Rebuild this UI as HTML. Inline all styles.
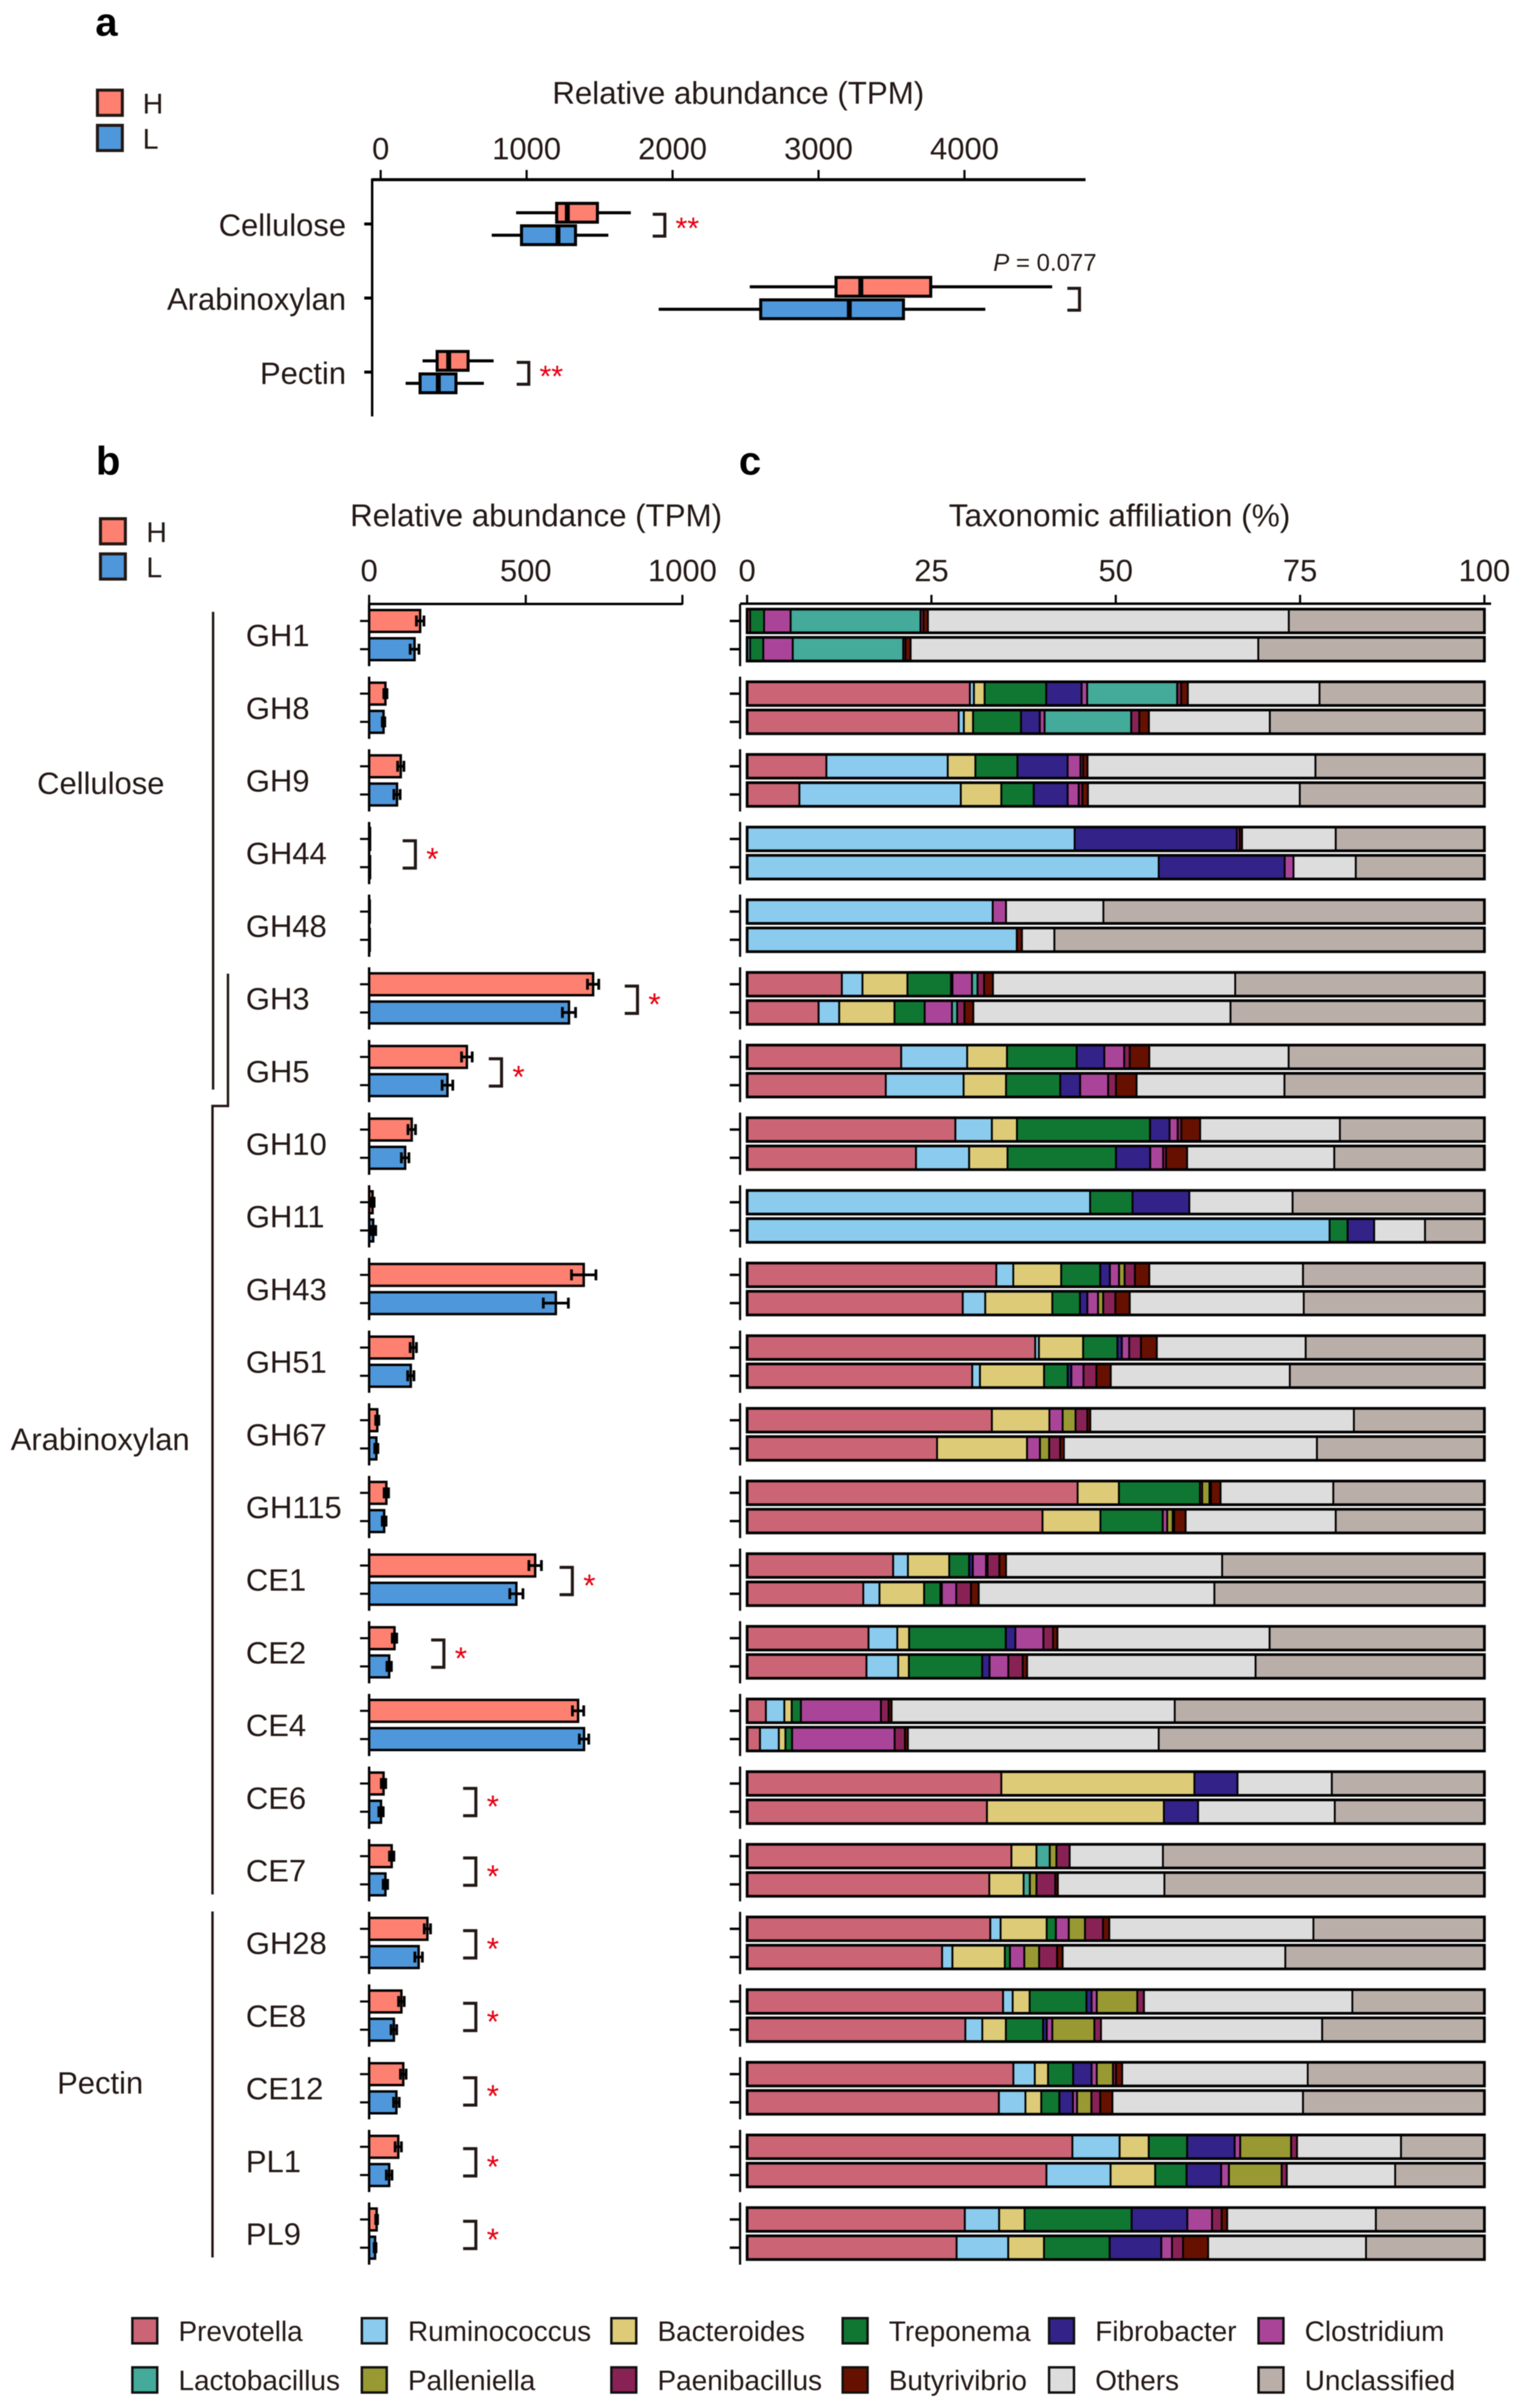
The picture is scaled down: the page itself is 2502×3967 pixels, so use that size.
<!DOCTYPE html>
<html lang="en">
<head>
<meta charset="utf-8">
<title>Relative abundance and taxonomic affiliation of carbohydrate-active enzymes</title>
<style>
  html, body { margin: 0; padding: 0; background: #fff; }
  svg { display: block; filter: blur(0.7px); }
  text { font-family: "Liberation Sans", Arial, sans-serif; fill: #231815; }
</style>
</head>
<body>
<svg id="figure" xmlns="http://www.w3.org/2000/svg" width="2502" height="3967" viewBox="0 0 2502 3967">
  <rect x="0" y="0" width="2502" height="3967" fill="#fff"/>

  <text x="157" y="59" font-size="66" font-weight="bold" style="fill:#000">a</text>
  <text x="158" y="782" font-size="66" font-weight="bold" style="fill:#000">b</text>
  <text x="1217" y="782" font-size="66" font-weight="bold" style="fill:#000">c</text>

  <text x="1216" y="171" font-size="51.5" text-anchor="middle">Relative abundance (TPM)</text>
  <text x="883" y="867" font-size="51.5" text-anchor="middle">Relative abundance (TPM)</text>
  <text x="1844" y="867" font-size="52" text-anchor="middle">Taxonomic affiliation (%)</text>

  <text x="1636" y="446" font-size="39.5"><tspan font-style="italic">P</tspan> = 0.077</text>

  <text x="166" y="1308" font-size="51" text-anchor="middle">Cellulose</text>
  <text x="165" y="2389" font-size="51" text-anchor="middle">Arabinoxylan</text>
  <text x="165" y="3449" font-size="51" text-anchor="middle">Pectin</text>

  <g fill="none" stroke="#231815" stroke-width="4">
    <path d="M351 1008V1795"/>
    <path d="M375.500 1604V1822H350V3121"/>
    <path d="M350 3149V3719"/>
  </g>

  <g id="panel-a"></g>
  <g id="panel-b"></g>
  <g id="panel-c"></g>
  <g id="legends"></g>
</svg>

<script>
// ---------- Panel a data ----------
const polysaccharides = ['Cellulose', 'Arabinoxylan', 'Pectin'];
const boxTicks = [0, 1000, 2000, 3000, 4000];
const boxWhiskerLowH = [928, 2529, 287];
const boxQ1H = [1206, 3120, 387];
const boxMedianH = [1279, 3290, 466];
const boxQ3H = [1485, 3769, 599];
const boxWhiskerHighH = [1714, 4601, 774];
const boxWhiskerLowL = [761, 1905, 171];
const boxQ1L = [965, 2604, 270];
const boxMedianL = [1215, 3211, 395];
const boxQ3L = [1335, 3582, 516];
const boxWhiskerHighL = [1560, 4143, 707];
const boxSignificance = ['**', '', '**'];
const boxBracketValue = [1864, 4705, 932];

// ---------- Panel b data ----------
const enzymes = ['GH1','GH8','GH9','GH44','GH48','GH3','GH5','GH10','GH11','GH43','GH51','GH67','GH115','CE1','CE2','CE4','CE6','CE7','GH28','CE8','CE12','PL1','PL9'];
const barTicks = [0, 500, 1000];
const abundanceH = [163,52,101,3,2,715,312,136,11,685,141,26,55,530,81,667,46,72,186,103,109,93,24];
const abundanceL = [145,46,89,3,2,638,250,115,13,596,133,23,48,470,64,686,38,52,158,79,87,64,19];
const errorH = [12,5,10,0,0,18,17,12,5,39,10,5,7,20,7,18,7,7,10,9,9,10,3];
const errorL = [14,4,10,0,0,21,17,12,8,40,10,5,6,21,7,15,7,7,12,9,9,9,3];
const enzymeSignificance = ['','','','*','','*','*','','','','','','','*','*','','*','*','*','*','*','*','*'];
const bracketValue = [null,null,null,107,null,816,382,null,null,null,null,null,null,608,198,null,300,300,300,300,300,300,300];

// ---------- Panel c data (percent, one value per enzyme) ----------
const percentTicks = [0, 25, 50, 75, 100];
const taxonNames = ['Prevotella','Ruminococcus','Bacteroides','Treponema','Fibrobacter','Clostridium','Lactobacillus','Palleniella','Paenibacillus','Butyrivibrio','Others','Unclassified'];
const taxonColors = ['#cb6475','#8acbee','#ddcb77','#107733','#332288','#aa4499','#44aa99','#999933','#882255','#661100','#dddddd','#baaea9'];
const prevotellaH = [0.4,30.2,10.75,0,0,12.85,20.9,28.25,0,33.8,39.1,33.2,44.85,19.8,16.45,2.55,34.5,35.85,33,34.7,36.1,44.1,29.5];
const prevotellaL = [0,28.7,7.1,0,0,9.7,18.8,22.9,0,29.25,30.55,25.75,40.05,15.75,16.2,1.75,32.55,32.85,26.45,29.6,34.15,40.6,28.4];
const ruminococcusH = [0,0.55,16.45,44.4,33.3,2.8,8.95,4.95,46.5,2.3,0.5,0,0,2,3.9,2.5,0,0,1.4,1.3,2.9,6.4,4.65];
const ruminococcusL = [0.4,0.7,21.9,55.85,36.6,2.8,10.55,7.2,79,3.05,1.05,0,0,2.2,4.3,2.55,0,0,1.4,2.3,3.6,8.7,7];
const bacteroidesH = [0,1.45,3.75,0,0,6.1,5.4,3.4,0,6.5,6,7.8,5.6,5.6,1.6,1,26.2,3.4,6.25,2.3,1.8,3.95,3.45];
const bacteroidesL = [0,1.25,5.5,0,0,7.5,5.75,5.2,0,9.1,8.7,12.2,7.85,6.05,1.45,0.9,24,4.65,7.1,3.2,2.15,6.05,4.85];
const treponemaH = [1.9,8.35,5.7,0,0,5.9,9.45,18.05,5.75,5.3,4.65,0,11,2.7,13.1,1.25,0,0,1.25,7.7,3.4,5.2,14.5];
const treponemaL = [1.8,6.5,4.4,0,0,4.1,7.35,14.7,2.45,3.75,3.2,0,8.45,2.2,9.95,0.9,0,0,0.7,5.05,2.45,4.25,8.9];
const fibrobacterH = [0,4.8,6.8,22,0,0.2,3.75,2.65,7.7,1.3,0.6,0,0,0.5,1.3,0,5.85,0,0,0.7,2.5,6.45,7.55];
const fibrobacterL = [0,2.55,4.6,17.1,0,0,2.7,4.65,3.6,1,0.5,0,0,0.2,1,0,4.65,0,0,0.5,1.85,4.7,7];
const clostridiumH = [3.6,0.75,1.75,0.35,1.8,2.65,2.7,1.1,0,1.25,1,1.8,0.3,1.8,3.8,10.85,0,0,1.75,0.7,0.7,0.75,3.35];
const clostridiumL = [4,0.65,1.5,1.2,0,3.7,3.8,1.75,0,1.45,1.65,1.75,0.6,1.95,2.55,13.9,0,0,1.95,0.75,0.55,1.05,1.45];
const lactobacillusH = [17.6,12.2,0,0,0,0.75,0,0,0,0,0,0,0,0.2,0,0,0,1.8,0,0,0,0,0];
const lactobacillusL = [15,11.75,0,0,0,0.7,0,0,0,0,0,0,0,0,0,0,0,0.85,0,0,0,0,0];
const palleniellaH = [0,0,0,0,0,0,0,0,0,0.75,0,1.75,1,0,0,0,0,0.9,2.2,5.5,2.2,6.9,0];
const palleniellaL = [0,0,0,0,0,0,0,0,0,0.7,0,1.25,0.75,0,0,0,0,0.9,2,5.7,1.95,7.15,0];
const paenibacillusH = [0.4,0.55,0.35,0,0,0.9,0.75,0.5,0,1.4,1.6,1.6,0.2,1.6,1.3,1.05,0,1.8,2.45,0.9,0.4,0.8,1.3];
const paenibacillusL = [0.3,1.1,0.5,0,0,1,1.05,0.4,0,1.65,1.75,1.5,0.2,2,1.95,1.4,0,2.55,2.45,0.9,1.2,0.7,1.5];
const butyrivibrioH = [0.6,0.9,0.6,0.35,0,1.2,2.65,2.55,0,1.95,2.15,0.4,1.3,0.9,0.6,0.4,0,0,0.85,0,0.85,0,0.75];
const butyrivibrioL = [0.7,1.3,0.75,0,0.7,1.2,2.8,2.85,0,1.95,1.95,0.5,1.55,1.05,0.6,0.4,0,0.35,0.75,0,1.65,0,3.4];
const othersH = [48.9,17.85,30.9,12.7,13.2,32.85,18.9,18.95,14,20.85,20.2,35.75,15.3,29.3,28.75,38.4,12.8,12.65,27.7,28.25,25.15,14.1,20.15];
const othersL = [47.2,16.4,28.75,8.45,4.4,34.9,20.05,19.95,6.9,23.6,24.3,34.3,20.35,31.95,31,34,18.55,14.45,30.2,30,25.85,14.7,21.4];
const unclassifiedH = [26.5,22.35,22.9,20.15,51.65,33.8,26.55,19.6,26,24.6,24.25,17.7,20.5,35.55,29.1,42,20.7,43.6,23.2,17.9,23.95,11.3,14.7];
const unclassifiedL = [30.7,29.1,25.05,17.45,58.35,34.45,27.1,20.35,8.05,24.5,26.4,22.7,20.15,36.6,31.05,44.15,20.3,43.4,27,22,24.6,12.1,16.05];

const seriesH = [prevotellaH, ruminococcusH, bacteroidesH, treponemaH, fibrobacterH, clostridiumH, lactobacillusH, palleniellaH, paenibacillusH, butyrivibrioH, othersH, unclassifiedH];
const seriesL = [prevotellaL, ruminococcusL, bacteroidesL, treponemaL, fibrobacterL, clostridiumL, lactobacillusL, palleniellaL, paenibacillusL, butyrivibrioL, othersL, unclassifiedL];

// ---------- Axis functions ----------
const INK = '#231815';
const COLOR_H = '#fd8070';
const COLOR_L = '#4e97da';
const RED = '#e60012';
const xA = v => 627 + v * 0.2404;
const xB = v => 608 + v * 0.516;
const xC = v => 1230.6 + v * 12.144;
const rowH = i => 1023 + 119.7 * i;
const rowL = i => rowH(i) + 46.5;

const NS = 'http://www.w3.org/2000/svg';
function make(parent, tag, props, content) {
  const node = document.createElementNS(NS, tag);
  Object.keys(props).forEach(k => node.setAttribute(k, props[k]));
  if (content !== undefined) node.textContent = content;
  parent.appendChild(node);
  return node;
}
const capsBaseline = (cy, size) => cy + 0.36 * size;

// ---------- Panel a ----------
const gA = document.getElementById('panel-a');
let axA = make(gA, 'path', {d: 'M613 296H1788', fill: 'none', stroke: '#000', 'stroke-width': 5});


axA = make(gA, 'path', {d: 'M613 294V686', fill: 'none', stroke: '#000', 'stroke-width': 4});



boxTicks.forEach(t => {
  const tick = make(gA, 'line', {x1: xA(t), x2: xA(t), y1: 280, y2: 296, stroke: '#000', 'stroke-width': 3.5});
  
  
  const label = make(gA, 'text', {x: xA(t), y: capsBaseline(244, 51), 'font-size': 51, 'text-anchor': 'middle'}, String(t));
  
  
});

function drawBox(low, q1, med, q3, high, cy, fill, nameBase) {
  const whisker = make(gA, 'line', {x1: xA(low), x2: xA(high), y1: cy, y2: cy, stroke: '#000', 'stroke-width': 5});
  
  
  const box = make(gA, 'rect', {x: xA(q1), y: cy - 15.5, width: xA(q3) - xA(q1), height: 31, fill: fill, stroke: '#000', 'stroke-width': 5});
  
  
  const median = make(gA, 'line', {x1: xA(med), x2: xA(med), y1: cy - 18, y2: cy + 18, stroke: '#000', 'stroke-width': 8});
  
  
}

polysaccharides.forEach((name, i) => {
  const cy = 369 + 122 * i;
  const tick = make(gA, 'line', {x1: 600, x2: 613, y1: cy, y2: cy, stroke: '#000', 'stroke-width': 5});
  
  
  const label = make(gA, 'text', {x: 570, y: capsBaseline(cy + 1, 51), 'font-size': 51, 'text-anchor': 'end'}, name);
  
  
  drawBox(boxWhiskerLowH[i], boxQ1H[i], boxMedianH[i], boxQ3H[i], boxWhiskerHighH[i], cy - 18.5, COLOR_H, name.toLowerCase() + '-h');
  drawBox(boxWhiskerLowL[i], boxQ1L[i], boxMedianL[i], boxQ3L[i], boxWhiskerHighL[i], cy + 18.5, COLOR_L, name.toLowerCase() + '-l');
  const bx = xA(boxBracketValue[i]);
  const bracket = make(gA, 'path', {d: 'M' + bx + ' ' + (cy - 16) + 'H' + (bx + 20) + 'V' + (cy + 20) + 'H' + bx, fill: 'none', stroke: INK, 'stroke-width': 5});
  
  
  if (boxSignificance[i]) {
    const star = make(gA, 'text', {x: bx + 57, y: cy + 24, 'font-size': 50, 'text-anchor': 'middle', style: 'fill:' + RED}, boxSignificance[i]);
    
    
  }
});

// ---------- Panel b ----------
const gB = document.getElementById('panel-b');
const axB = make(gB, 'path', {d: 'M' + xB(0) + ' 995H' + xB(1000), fill: 'none', stroke: '#000', 'stroke-width': 4});


barTicks.forEach(t => {
  const tick = make(gB, 'line', {x1: xB(t), x2: xB(t), y1: 980, y2: 996, stroke: '#000', 'stroke-width': 3.5});
  
  
  const label = make(gB, 'text', {x: xB(t), y: capsBaseline(939, 51), 'font-size': 51, 'text-anchor': 'middle'}, String(t));
  
  
});

function drawBar(value, err, cy, fill, nameBase) {
  const bar = make(gB, 'rect', {x: xB(0), y: cy - 18, width: xB(value) - xB(0), height: 36, fill: fill, stroke: '#000', 'stroke-width': 4});
  
  
  if (err > 0) {
    const lo = xB(value - err), hi = xB(value + err);
    const eb = make(gB, 'path', {d: 'M' + lo + ' ' + cy + 'H' + hi + 'M' + lo + ' ' + (cy - 9) + 'V' + (cy + 9) + 'M' + hi + ' ' + (cy - 9) + 'V' + (cy + 9), fill: 'none', stroke: '#000', 'stroke-width': 4.5});
    
    
  }
}

const bracketNudge = {CE6: 5, CE12: 3};

enzymes.forEach((name, i) => {
  const yH = rowH(i), yL = rowL(i), slug = name.toLowerCase();
  const label = make(gB, 'text', {x: 405, y: capsBaseline((yH + yL) / 2, 51), 'font-size': 51}, name);
  
  
  drawBar(abundanceH[i], errorH[i], yH, COLOR_H, slug + '-h');
  drawBar(abundanceL[i], errorL[i], yL, COLOR_L, slug + '-l');
  const axis = make(gB, 'line', {x1: xB(0), x2: xB(0), y1: yH - 28, y2: yL + 28, stroke: '#000', 'stroke-width': 4});
  
  
  [yH, yL].forEach(y => {
    const tick = make(gB, 'line', {x1: 593, x2: 608, y1: y, y2: y, stroke: '#000', 'stroke-width': 3.5});
    
    
  });
  if (bracketValue[i] !== null) {
    const bx = xB(bracketValue[i]);
    const top = yH + (bracketNudge[name] || 0);
    const bracket = make(gB, 'path', {d: 'M' + bx + ' ' + (top + 3) + 'H' + (bx + 21) + 'V' + (top + 48) + 'H' + bx, fill: 'none', stroke: INK, 'stroke-width': 5});
    
    
    const star = make(gB, 'text', {x: bx + 49, y: top + 51, 'font-size': 52, 'text-anchor': 'middle', style: 'fill:' + RED}, enzymeSignificance[i]);
    
    
  }
});

// ---------- Panel c ----------
const gC = document.getElementById('panel-c');
const axC = make(gC, 'path', {d: 'M1219 994.500H2456', fill: 'none', stroke: '#000', 'stroke-width': 4});


percentTicks.forEach(t => {
  const tick = make(gC, 'line', {x1: xC(t), x2: xC(t), y1: 980, y2: 995, stroke: '#000', 'stroke-width': 3.5});
  
  
  const label = make(gC, 'text', {x: xC(t), y: capsBaseline(939, 51), 'font-size': 51, 'text-anchor': 'middle'}, String(t));
  
  
});

function drawStack(series, i, cy, nameBase) {
  const total = series.reduce((s, arr) => s + arr[i], 0);
  let cum = 0;
  series.forEach((arr, k) => {
    const v = arr[i] / total * 100;
    if (v > 0) {
      const seg = make(gC, 'rect', {x: xC(cum), y: cy - 19, width: xC(cum + v) - xC(cum), height: 38, fill: taxonColors[k], stroke: '#000', 'stroke-width': 3});
      
      
    }
    cum += v;
  });
  const frame = make(gC, 'rect', {x: xC(0), y: cy - 19.5, width: xC(100) - xC(0), height: 39, fill: 'none', stroke: '#000', 'stroke-width': 4.5});
  
  
}

enzymes.forEach((name, i) => {
  const yH = rowH(i), yL = rowL(i), slug = name.toLowerCase();
  const axis = make(gC, 'line', {x1: 1219, x2: 1219, y1: yH - 28, y2: yL + 28, stroke: '#000', 'stroke-width': 3.5});
  
  
  [yH, yL].forEach(y => {
    const tick = make(gC, 'line', {x1: 1202, x2: 1219, y1: y, y2: y, stroke: '#000', 'stroke-width': 4});
    
    
  });
  drawStack(seriesH, i, yH, slug + '-h-stack');
  drawStack(seriesL, i, yL, slug + '-l-stack');
});

// ---------- Legends ----------
const gL = document.getElementById('legends');
function drawGroupLegend(x, textX, yTopH, yTopL, nameBase) {
  [['H', COLOR_H, yTopH], ['L', COLOR_L, yTopL]].forEach(entry => {
    const swatch = make(gL, 'rect', {x: x + 2.5, y: entry[2] + 2.5, width: 41, height: 41.5, fill: entry[1], stroke: INK, 'stroke-width': 5});
    
    
    const label = make(gL, 'text', {x: textX, y: capsBaseline(entry[2] + 24, 47), 'font-size': 47}, entry[0]);
    
    
  });
}
drawGroupLegend(158, 235, 146, 204, 'panel-a-legend');
drawGroupLegend(163, 241, 852, 910, 'panel-b-legend');

const legendColumns = [216, 594, 1005, 1386, 1726, 2071];
const legendRows = [3817, 3898];
taxonNames.forEach((name, k) => {
  const sx = legendColumns[k % 6];
  const sy = legendRows[Math.floor(k / 6)];
  const swatch = make(gL, 'rect', {x: sx + 2, y: sy + 2, width: 41, height: 41.5, fill: taxonColors[k], stroke: '#111', 'stroke-width': 4});
  
  
  const label = make(gL, 'text', {x: sx + 78, y: capsBaseline(sy + 23, 46), 'font-size': 46}, name);
  
  
});
</script>
</body>
</html>
